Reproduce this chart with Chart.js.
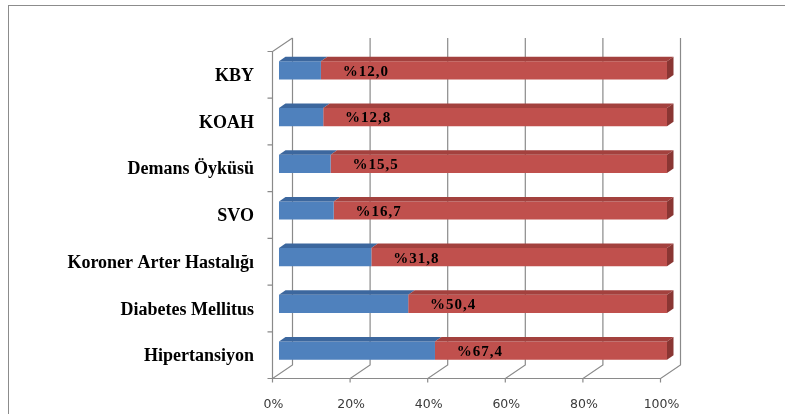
<!DOCTYPE html>
<html>
<head>
<meta charset="utf-8">
<script src="https://cdn.jsdelivr.net/npm/chart.js@4"></script>
<style>
  html, body { margin:0; padding:0; background:#fff; overflow:hidden; }
  #wrap { position:relative; width:785px; height:414px; }
  #frame { position:absolute; left:8px; top:5px; width:900px; height:500px; border:1px solid #8c8c8c; }
  canvas { position:absolute; left:0; top:0; }
</style>
</head>
<body>
<div id="wrap">
  <div id="frame"></div>
  <canvas id="c" width="785" height="414"></canvas>
</div>
<script>
"use strict";

// categories top -> bottom, as in the picture
const CATEGORIES = ['KBY', 'KOAH', 'Demans Öyküsü', 'SVO', 'Koroner Arter Hastalığı', 'Diabetes Mellitus', 'Hipertansiyon'];
// blue share of each bar, red fills the rest
const BLUE = [10.8, 11.4, 13.3, 14.1, 23.8, 33.3, 40.2];
const RED = [89.2, 88.6, 86.7, 85.9, 76.2, 66.7, 59.8];
// labels printed on the bars
const BAR_LABELS = ['%12,0', '%12,8', '%15,5', '%16,7', '%31,8', '%50,4', '%67,4'];
const X_TICKS = [0, 20, 40, 60, 80, 100];

const C = {blue:'#4f81bd', blueTop:'#3c679e', red:'#c0504d', redTop:'#a3413e', redSide:'#8a3633',
           grid:'#8a8a8a', ink:'#000', tick:'#3a3a3a'};

// 3D offsets relative to the bars' front faces
const BAR_D = {dx:6.5, dy:4.5};     // depth of a bar
const FRONT = {dx:-6.5, dy:4.5};    // front edge of walls/floor
const BACK = {dx:13.5, dy:-9};      // back wall

function poly(ctx, pts, fill) {
  ctx.beginPath();
  ctx.moveTo(pts[0][0], pts[0][1]);
  for (let i = 1; i < pts.length; i++) ctx.lineTo(pts[i][0], pts[i][1]);
  ctx.closePath();
  ctx.fillStyle = fill;
  ctx.fill();
}

const walls3d = {
  id: 'walls3d',
  beforeDatasetsDraw(chart) {
    const ctx = chart.ctx, a = chart.chartArea, xs = chart.scales.x;
    ctx.save();
    ctx.strokeStyle = C.grid;
    ctx.lineWidth = 1.2;
    // back wall gridlines + floor diagonals + small ticks below the floor
    X_TICKS.forEach(v => {
      const px = xs.getPixelForValue(v);
      ctx.beginPath();
      ctx.moveTo(px + BACK.dx, a.top + BACK.dy);
      ctx.lineTo(px + BACK.dx, a.bottom + BACK.dy);
      ctx.lineTo(px + FRONT.dx, a.bottom + FRONT.dy);
      ctx.lineTo(px + FRONT.dx, a.bottom + FRONT.dy + 4);
      ctx.stroke();
    });
    const x0 = xs.getPixelForValue(0), x1 = xs.getPixelForValue(100);
    ctx.beginPath();
    // front floor edge
    ctx.moveTo(x0 + FRONT.dx, a.bottom + FRONT.dy);
    ctx.lineTo(x1 + FRONT.dx, a.bottom + FRONT.dy);
    // left wall front edge and top
    ctx.moveTo(x0 + FRONT.dx, a.bottom + FRONT.dy);
    ctx.lineTo(x0 + FRONT.dx, a.top + FRONT.dy);
    ctx.lineTo(x0 + BACK.dx, a.top + BACK.dy);
    ctx.stroke();
    // category ticks on the left wall
    const n = CATEGORIES.length, step = (a.bottom - a.top) / n;
    ctx.beginPath();
    for (let i = 0; i <= n; i++) {
      const y = a.top + i * step + FRONT.dy;
      ctx.moveTo(x0 + FRONT.dx - 5, y);
      ctx.lineTo(x0 + FRONT.dx, y);
    }
    ctx.stroke();
    ctx.restore();
  },
  afterDatasetsDraw(chart) {
    const ctx = chart.ctx;
    const mb = chart.getDatasetMeta(0), mr = chart.getDatasetMeta(1);
    ctx.save();
    mb.data.forEach((b, j) => {
      const r = mr.data[j];
      const top = b.y - b.height / 2, bot = b.y + b.height / 2;
      const d = BAR_D;
      poly(ctx, [[b.base, top], [b.x, top], [b.x + d.dx, top - d.dy], [b.base + d.dx, top - d.dy]], C.blueTop);
      poly(ctx, [[r.base, top], [r.x, top], [r.x + d.dx, top - d.dy], [r.base + d.dx, top - d.dy]], C.redTop);
      poly(ctx, [[r.x, top], [r.x + d.dx, top - d.dy], [r.x + d.dx, bot - d.dy], [r.x, bot]], C.redSide);
      // value label
      ctx.font = 'bold 15px "Liberation Serif", serif';
      ctx.letterSpacing = '1px';
      ctx.fillStyle = C.ink;
      ctx.textAlign = 'center';
      ctx.textBaseline = 'middle';
      ctx.fillText(BAR_LABELS[j], r.base + 45, b.y + 1.5);
    });
    ctx.restore();
  }
};

new Chart(document.getElementById('c'), {
  type: 'bar',
  data: {
    labels: CATEGORIES,
    datasets: [
      {label:'blue', data:BLUE, backgroundColor:C.blue},
      {label:'red', data:RED, backgroundColor:C.red},
    ]
  },
  options: {
    indexAxis: 'y',
    responsive: false,
    animation: false,
    events: [],
    layout: {padding: {left:0, right:118, top:47, bottom:0}},
    datasets: {bar: {categoryPercentage:1, barPercentage:0.39, borderWidth:0}},
    plugins: {legend:{display:false}, tooltip:{enabled:false}},
    scales: {
      x: {
        stacked: true, min: 0, max: 100,
        grid: {display:false}, border: {display:false},
        afterFit: s => { s.height = 40; },
        afterBuildTicks: s => { s.ticks = X_TICKS.map(v => ({value:v})); },
        ticks: {callback: v => v + '%', labelOffset: FRONT.dx + 1, padding: 15, maxRotation: 0,
                color: C.tick, font: {family:'"DejaVu Sans", sans-serif', size:12.5}}
      },
      y: {
        stacked: true,
        grid: {display:false}, border: {display:false},
        afterFit: s => { s.width = 279; },
        ticks: {labelOffset: 6, padding: 17, color: C.ink,
                font: {family:'"Liberation Serif", serif', size:18, weight:'bold'}}
      }
    }
  },
  plugins: [walls3d]
});
</script>
</body>
</html>
